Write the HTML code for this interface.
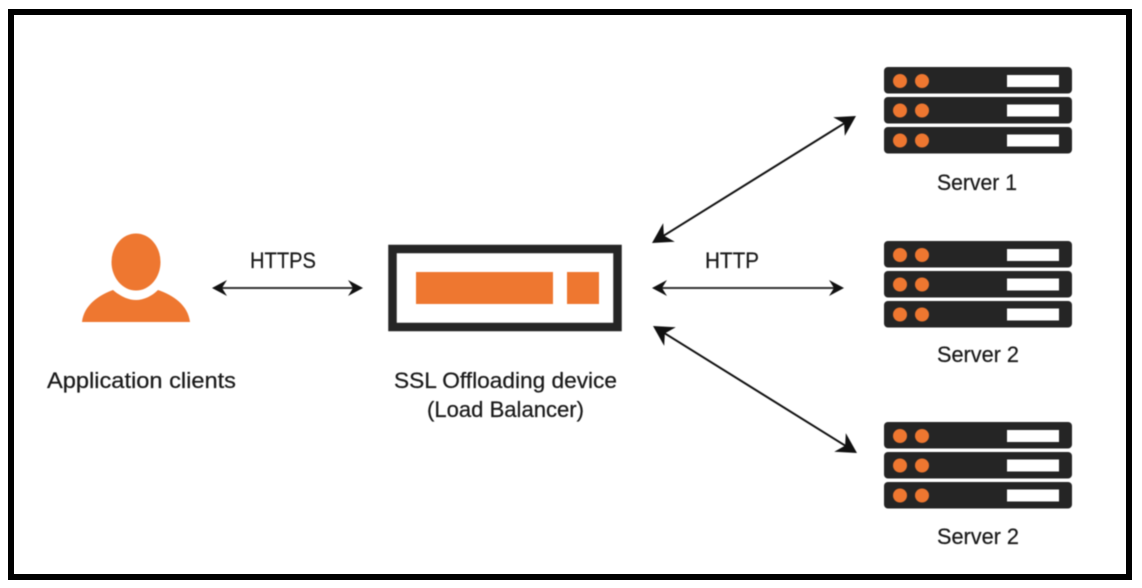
<!DOCTYPE html>
<html lang="en">
<head>
<meta charset="utf-8">
<title>SSL Offloading diagram</title>
<style>
html,body{margin:0;padding:0;background:#fff;width:1142px;height:588px;overflow:hidden}
svg{display:block}
text{font-family:"Liberation Sans",sans-serif;font-size:22.5px;fill:#1a1a1a;stroke:#1a1a1a;stroke-width:.25px}
.d{filter:blur(.5px)}
</style>
</head>
<body>
<svg width="1142" height="588" viewBox="0 0 1142 588" xmlns="http://www.w3.org/2000/svg">
<defs>
<marker id="big" markerUnits="userSpaceOnUse" markerWidth="22" markerHeight="24" refX="10" refY="11" orient="auto-start-reverse" viewBox="0 0 22 24">
<polygon points="20,11 0,0 6,11 0,22" fill="#111"/>
</marker>
<marker id="small" markerUnits="userSpaceOnUse" markerWidth="17" markerHeight="18" refX="8" refY="8" orient="auto-start-reverse" viewBox="0 0 17 18">
<polygon points="15,8 0,0 5,8 0,16" fill="#111"/>
</marker>
</defs>
<rect x="11" y="12" width="1118" height="565" fill="#fff" stroke="#000" stroke-width="6"/>
<g class="d">
<!-- person -->
<ellipse cx="136" cy="262" rx="24.5" ry="28.5" fill="#ee7730"/>
<path d="M82 322C84 305 99 295 113 290C120 296 128 300 136 300C144 300 152 296 158 290C173 295 188 305 190 322Z" fill="#ee7730"/>
<!-- load balancer -->
<rect x="392.500" y="249" width="225" height="78" fill="#fff" stroke="#252525" stroke-width="8.500"/>
<rect x="416" y="272" width="137" height="32" fill="#ee7730"/>
<rect x="567" y="272" width="32" height="32" fill="#ee7730"/>
<!-- arrows -->
<line x1="219" y1="288" x2="356" y2="288" stroke="#333" stroke-width="2" marker-start="url(#small)" marker-end="url(#small)"/>
<line x1="659" y1="288" x2="837" y2="288" stroke="#333" stroke-width="2" marker-start="url(#small)" marker-end="url(#small)"/>
<line x1="660.500" y1="237.700" x2="847.500" y2="121.300" stroke="#111" stroke-width="2" marker-start="url(#big)" marker-end="url(#big)"/>
<line x1="661.500" y1="331.300" x2="848.500" y2="447.700" stroke="#111" stroke-width="2" marker-start="url(#big)" marker-end="url(#big)"/>
<!-- server 1 -->
<g>
<rect x="884" y="67" width="188" height="26.500" rx="4" fill="#252525"/><circle cx="900" cy="81" r="7" fill="#ee7730"/><circle cx="922" cy="81" r="7" fill="#ee7730"/><rect x="1007" y="75" width="52" height="12" fill="#fff"/>
<rect x="884" y="97" width="188" height="26.500" rx="4" fill="#252525"/><circle cx="900" cy="110.500" r="7" fill="#ee7730"/><circle cx="922" cy="110.500" r="7" fill="#ee7730"/><rect x="1007" y="104.500" width="52" height="12" fill="#fff"/>
<rect x="884" y="127" width="188" height="26.500" rx="4" fill="#252525"/><circle cx="900" cy="140.500" r="7" fill="#ee7730"/><circle cx="922" cy="140.500" r="7" fill="#ee7730"/><rect x="1007" y="134.500" width="52" height="12" fill="#fff"/>
</g>
<!-- server 2 -->
<g transform="translate(0 174)">
<rect x="884" y="67" width="188" height="26.500" rx="4" fill="#252525"/><circle cx="900" cy="81" r="7" fill="#ee7730"/><circle cx="922" cy="81" r="7" fill="#ee7730"/><rect x="1007" y="75" width="52" height="12" fill="#fff"/>
<rect x="884" y="97" width="188" height="26.500" rx="4" fill="#252525"/><circle cx="900" cy="110.500" r="7" fill="#ee7730"/><circle cx="922" cy="110.500" r="7" fill="#ee7730"/><rect x="1007" y="104.500" width="52" height="12" fill="#fff"/>
<rect x="884" y="127" width="188" height="26.500" rx="4" fill="#252525"/><circle cx="900" cy="140.500" r="7" fill="#ee7730"/><circle cx="922" cy="140.500" r="7" fill="#ee7730"/><rect x="1007" y="134.500" width="52" height="12" fill="#fff"/>
</g>
<!-- server 3 -->
<g transform="translate(0 355)">
<rect x="884" y="67" width="188" height="26.500" rx="4" fill="#252525"/><circle cx="900" cy="81" r="7" fill="#ee7730"/><circle cx="922" cy="81" r="7" fill="#ee7730"/><rect x="1007" y="75" width="52" height="12" fill="#fff"/>
<rect x="884" y="97" width="188" height="26.500" rx="4" fill="#252525"/><circle cx="900" cy="110.500" r="7" fill="#ee7730"/><circle cx="922" cy="110.500" r="7" fill="#ee7730"/><rect x="1007" y="104.500" width="52" height="12" fill="#fff"/>
<rect x="884" y="127" width="188" height="26.500" rx="4" fill="#252525"/><circle cx="900" cy="140.500" r="7" fill="#ee7730"/><circle cx="922" cy="140.500" r="7" fill="#ee7730"/><rect x="1007" y="134.500" width="52" height="12" fill="#fff"/>
</g>
<!-- labels -->
<text x="250" y="268" textLength="66" lengthAdjust="spacingAndGlyphs">HTTPS</text>
<text x="705" y="268" textLength="54" lengthAdjust="spacingAndGlyphs">HTTP</text>
<text x="47" y="388" textLength="189" lengthAdjust="spacingAndGlyphs">Application clients</text>
<text x="394" y="388" textLength="223" lengthAdjust="spacingAndGlyphs">SSL Offloading device</text>
<text x="427" y="417" textLength="157" lengthAdjust="spacingAndGlyphs">(Load Balancer)</text>
<text x="937" y="190" textLength="80" lengthAdjust="spacingAndGlyphs">Server 1</text>
<text x="937" y="362" textLength="82" lengthAdjust="spacingAndGlyphs">Server 2</text>
<text x="937" y="544" textLength="82" lengthAdjust="spacingAndGlyphs">Server 2</text>
</g>
</svg>
</body>
</html>
